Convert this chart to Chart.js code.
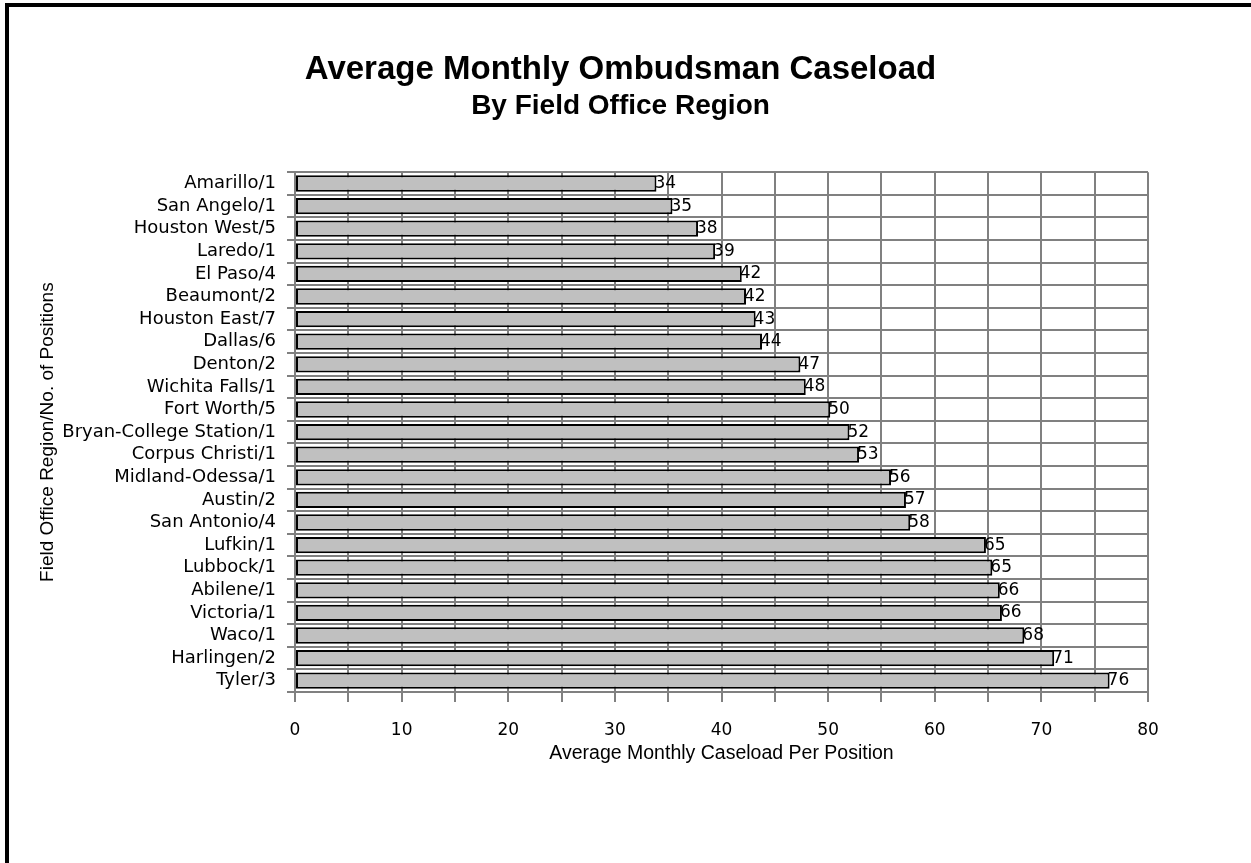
<!DOCTYPE html>
<html>
<head>
    <title>Average Monthly Ombudsman Caseload</title>
    <script src="https://cdn.jsdelivr.net/npm/chart.js"></script>
    <style>
        body { margin: 0; background: #fff; }
        #frameTop { position: absolute; left: 5px; top: 3px; width: 1246px; height: 4px; background: #000; }
        #frameLeft { position: absolute; left: 5px; top: 3px; width: 4px; height: 860px; background: #000; }
        canvas { position: absolute; left: 0; top: 0; }
    </style>
</head>
<body>
<canvas id="caseloadChart" width="1251" height="863"></canvas>
<div id="frameTop"></div>
<div id="frameLeft"></div>

<script>
    const regions = ['Amarillo/1', 'San Angelo/1', 'Houston West/5', 'Laredo/1', 'El Paso/4', 'Beaumont/2',
        'Houston East/7', 'Dallas/6', 'Denton/2', 'Wichita Falls/1', 'Fort Worth/5', 'Bryan-College Station/1',
        'Corpus Christi/1', 'Midland-Odessa/1', 'Austin/2', 'San Antonio/4', 'Lufkin/1', 'Lubbock/1',
        'Abilene/1', 'Victoria/1', 'Waco/1', 'Harlingen/2', 'Tyler/3'];
    const caseloads = [33.9, 35.4, 37.8, 39.4, 41.9, 42.3, 43.2, 43.8, 47.4, 47.9, 50.2, 52.0,
        52.9, 55.9, 57.3, 57.7, 64.8, 65.4, 66.1, 66.3, 68.4, 71.2, 76.4];
    const xMin = 0;
    const xMax = 80;
    const xStep = 5;

    const labelFont = "'DejaVu Sans', sans-serif";
    const arialFont = "'Liberation Sans', Arial, sans-serif";

    // value labels written just past the end of each bar
    const barLabels = {
        id: 'barLabels',
        afterDatasetsDraw(chart) {
            const ctx = chart.ctx;
            const meta = chart.getDatasetMeta(0);
            ctx.save();
            ctx.font = '17px ' + labelFont;
            ctx.fillStyle = '#000';
            ctx.textAlign = 'left';
            ctx.textBaseline = 'middle';
            meta.data.forEach((bar, i) => {
                ctx.fillText(Math.round(caseloads[i]), bar.x - 2, bar.y);
            });
            ctx.restore();
        }
    };

    // centre title + subtitle on the whole page, not between the paddings
    const pageTitles = {
        id: 'pageTitles',
        afterLayout(chart) {
            chart.boxes.forEach(box => {
                if (box instanceof Chart.Title._element) {
                    box.left = 0;
                    box.right = chart.width - 10;
                }
            });
        }
    };

    const ctx = document.getElementById('caseloadChart').getContext('2d');
    const caseloadChart = new Chart(ctx, {
        type: 'bar',
        data: {
            labels: regions,
            datasets: [{
                data: caseloads,
                backgroundColor: '#c0c0c0',
                borderColor: '#000',
                borderWidth: 2,
                borderSkipped: false,
                barPercentage: 0.72,
                categoryPercentage: 1
            }]
        },
        options: {
            indexAxis: 'y',
            responsive: false,
            animation: false,
            layout: {
                padding: { left: 30, right: 103, top: 0, bottom: 51 }
            },
            plugins: {
                legend: { display: false },
                tooltip: { enabled: false },
                title: {
                    display: true,
                    text: 'Average Monthly Ombudsman Caseload',
                    color: '#000',
                    font: { family: arialFont, size: 33, weight: 'bold' },
                    padding: { top: 50, bottom: 0 }
                },
                subtitle: {
                    display: true,
                    text: 'By Field Office Region',
                    color: '#000',
                    font: { family: arialFont, size: 28, weight: 'bold' },
                    padding: { top: 0, bottom: 49 }
                }
            },
            scales: {
                x: {
                    min: xMin,
                    max: xMax,
                    afterFit: scale => { scale.height = 120; },
                    ticks: {
                        stepSize: xStep,
                        autoSkip: false,
                        maxRotation: 0,
                        padding: 18,
                        color: '#000',
                        font: { family: labelFont, size: 17 },
                        callback: v => (v % 10 === 0 ? v : '')
                    },
                    grid: { color: '#808080', lineWidth: 2, tickLength: 10 },
                    border: { color: '#808080', width: 2 },
                    title: {
                        display: true,
                        text: 'Average Monthly Caseload Per Position',
                        color: '#000',
                        font: { family: arialFont, size: 19.5 },
                        padding: { top: 0, bottom: 47 }
                    }
                },
                y: {
                    afterFit: scale => { scale.width = 265; },
                    ticks: {
                        padding: 11,
                        color: '#000',
                        autoSkip: false,
                        font: { family: labelFont, size: 18 }
                    },
                    grid: { color: '#808080', lineWidth: 2, tickLength: 8, offset: true },
                    border: { color: '#808080', width: 2 },
                    title: {
                        display: true,
                        text: 'Field Office Region/No. of Positions',
                        color: '#000',
                        font: { family: arialFont, size: 19 },
                        padding: { top: 6, bottom: 0 }
                    }
                }
            }
        },
        plugins: [barLabels, pageTitles]
    });
</script>
</body>
</html>
